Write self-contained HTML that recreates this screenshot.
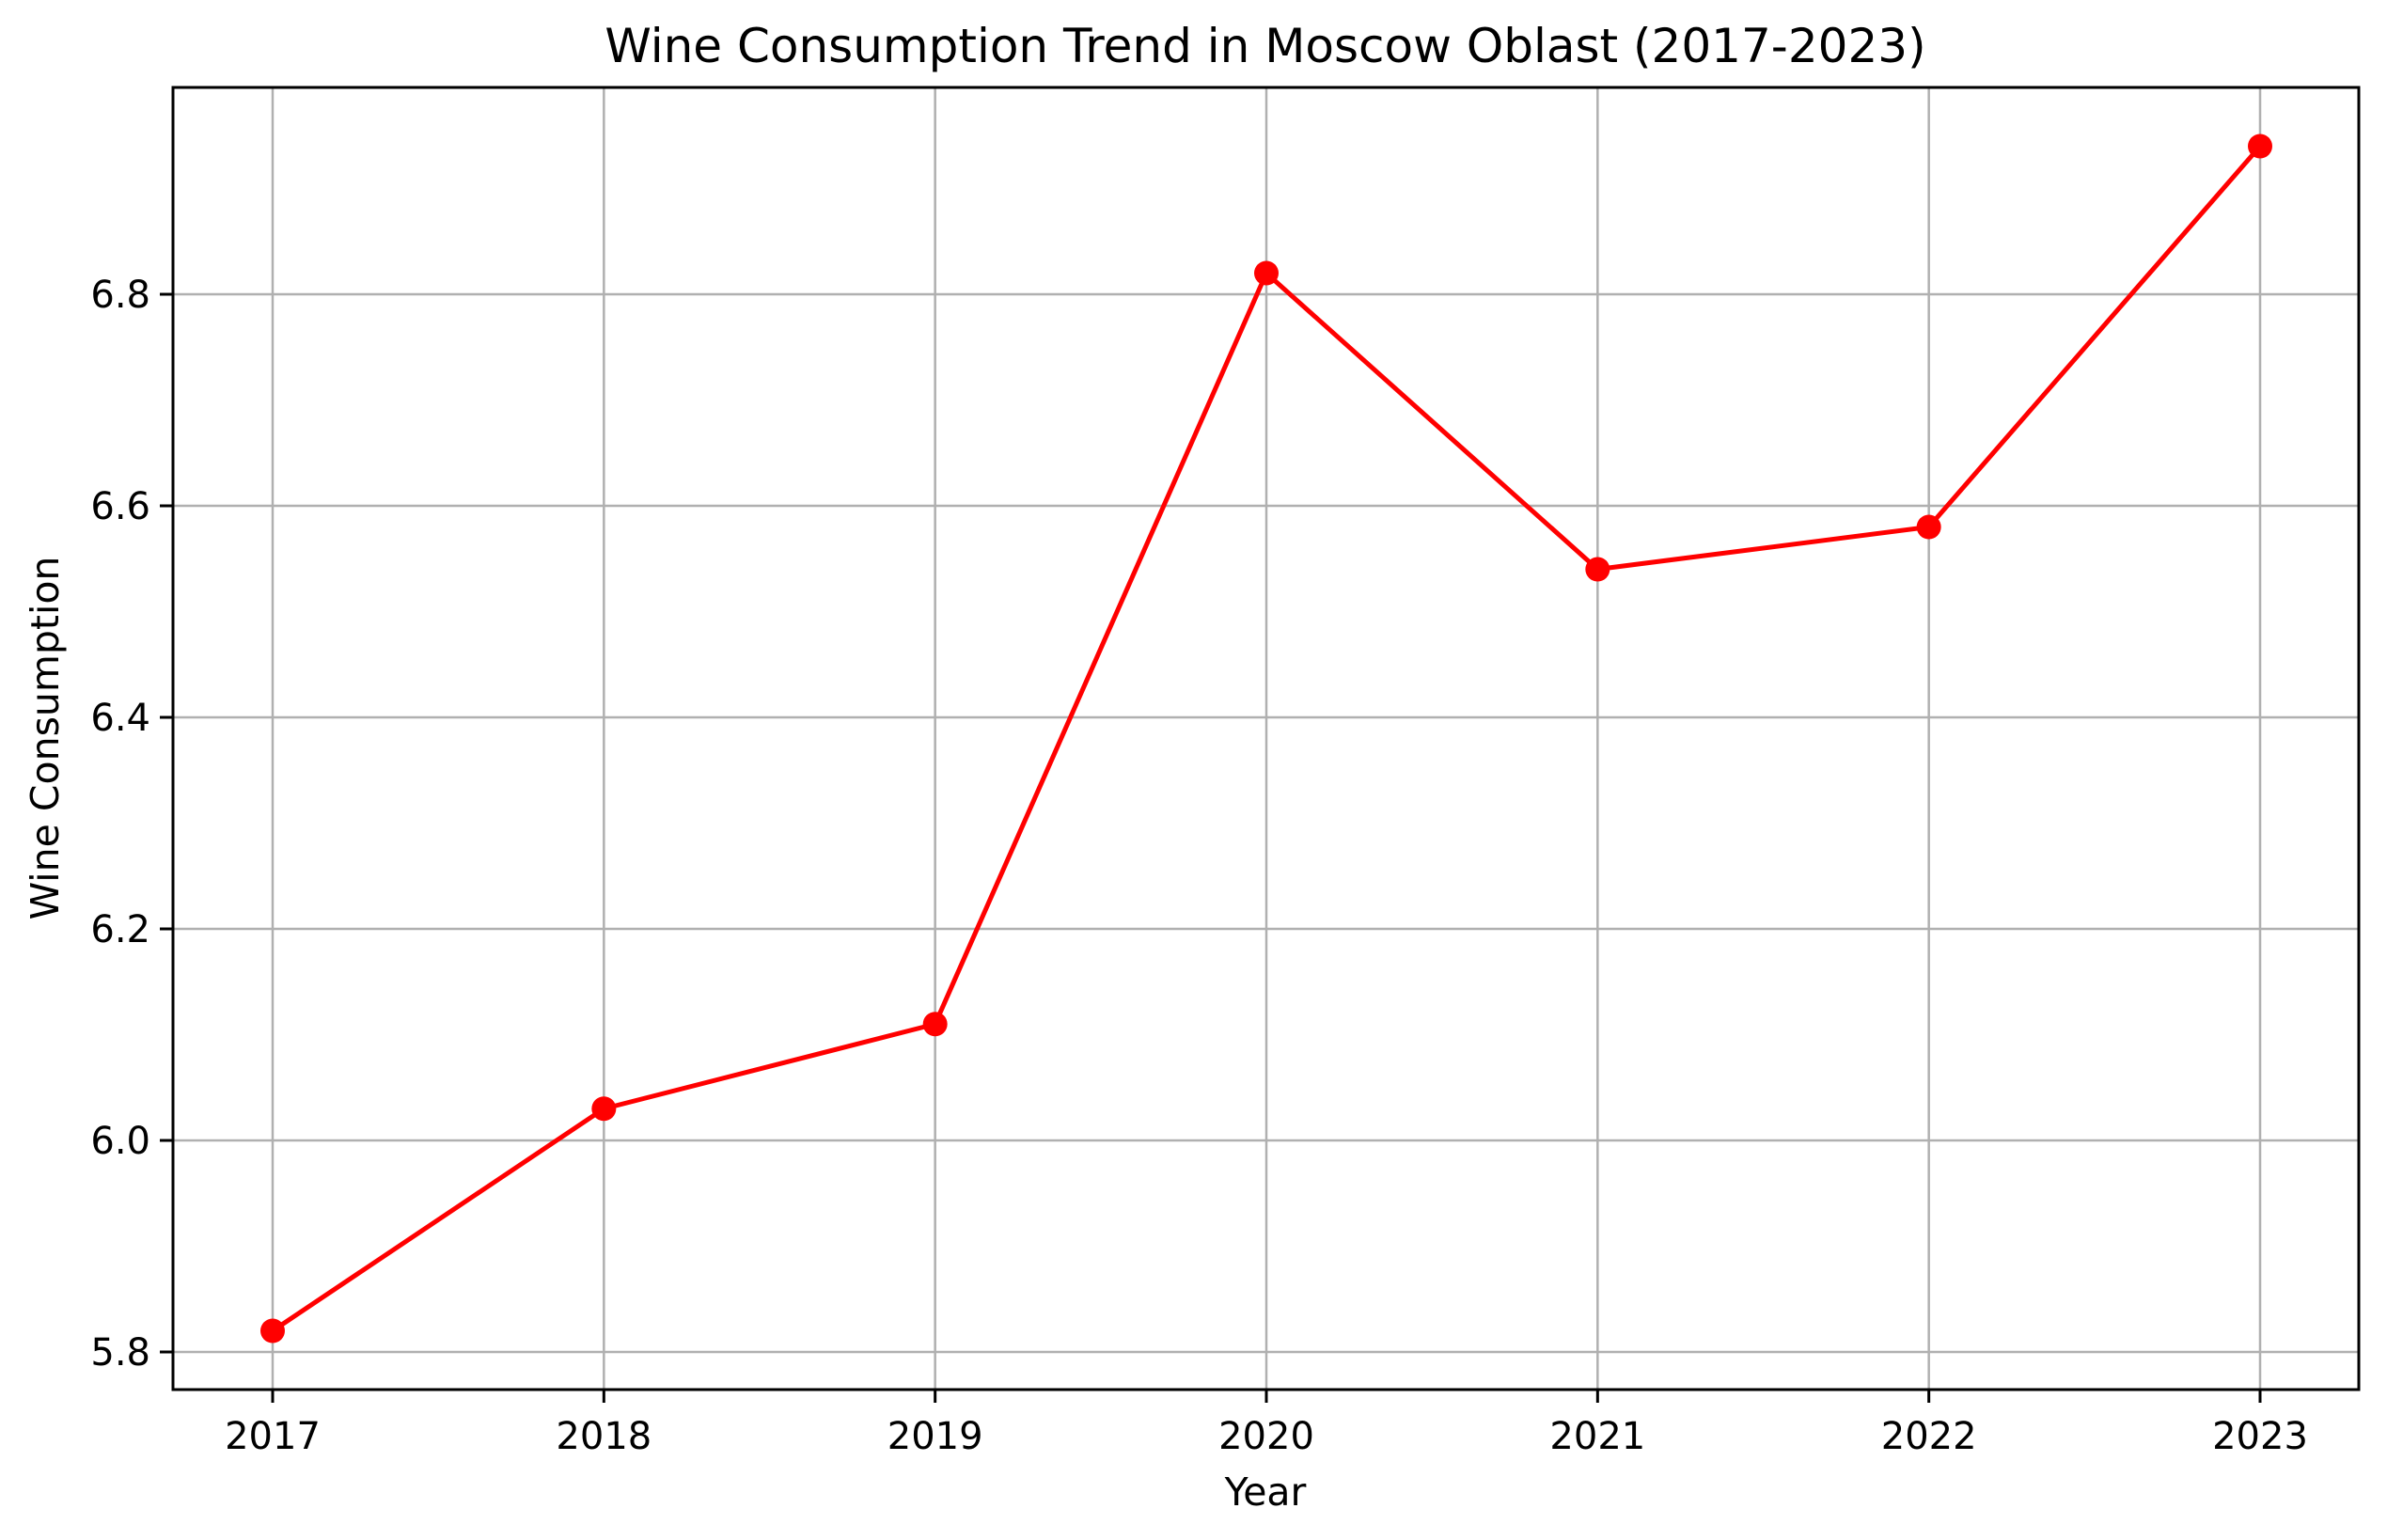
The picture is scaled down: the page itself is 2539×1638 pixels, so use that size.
<!DOCTYPE html>
<html><head><meta charset="utf-8"><style>
html,body{margin:0;padding:0;background:#fff}
svg{display:block}
text{font-family:"DejaVu Sans","Liberation Sans",sans-serif;fill:#000}
</style></head><body>
<svg id="chart" width="2539" height="1638" viewBox="0 0 2539 1638">
<text x="1346" y="66" font-size="50" text-anchor="middle">Wine Consumption Trend in Moscow Oblast (2017-2023)</text>
<g id="grid"></g>
<g id="ticks"></g>
<g id="series"></g>
<rect x="184" y="93" width="2325" height="1385" fill="none" stroke="#000" stroke-width="3"/>
<text x="1346" y="1601" font-size="41" text-anchor="middle">Year</text>
<text transform="translate(62,785) rotate(-90)" font-size="41" text-anchor="middle">Wine Consumption</text>
</svg>
<script>
const years = [2017, 2018, 2019, 2020, 2021, 2022, 2023];
const consumption = [5.82, 6.03, 6.11, 6.82, 6.54, 6.58, 6.94];
const yTicks = [5.8, 6.0, 6.2, 6.4, 6.6, 6.8];
const yTickLabels = ["5.8", "6.0", "6.2", "6.4", "6.6", "6.8"];

const NS = "http://www.w3.org/2000/svg";
const L = 184, R = 2509, T = 93, B = 1478;
function xs(v){ return 290 + (v - 2017) * (2404 - 290) / 6; }
function ys(v){ return 1438 + (v - 5.8) * (313 - 1438) / 1.0; }
function mk(tag, attrs, parent){
  const e = document.createElementNS(NS, tag);
  for (const k in attrs) e.setAttribute(k, attrs[k]);
  parent.appendChild(e);
  return e;
}
const grid = document.getElementById('grid');
const ticks = document.getElementById('ticks');
const series = document.getElementById('series');

years.forEach(function(yr){
  const x = xs(yr);
  const g = mk('line', {x1:x, x2:x, y1:T, y2:B, stroke:'#b0b0b0', 'stroke-width':2.5}, grid);
  
  
  const t = mk('line', {x1:x, x2:x, y1:B, y2:B+14, stroke:'#000', 'stroke-width':3}, ticks);
  
  
  const lb = mk('text', {x:x, y:1541, 'font-size':40, 'text-anchor':'middle'}, ticks);
  lb.textContent = String(yr);
  
  
});
yTicks.forEach(function(v, i){
  const y = ys(v);
  const g = mk('line', {x1:L, x2:R, y1:y, y2:y, stroke:'#b0b0b0', 'stroke-width':2.5}, grid);
  
  
  const t = mk('line', {x1:L-14, x2:L, y1:y, y2:y, stroke:'#000', 'stroke-width':3}, ticks);
  
  
  const lb = mk('text', {x:L-24, y:y+14, 'font-size':40, 'text-anchor':'end'}, ticks);
  lb.textContent = yTickLabels[i];
  
  
});
const pts = years.map(function(yr, i){ return xs(yr) + ',' + ys(consumption[i]); }).join(' ');
const line = mk('polyline', {points:pts, fill:'none', stroke:'#ff0000', 'stroke-width':5, 'stroke-linejoin':'round'}, series);


years.forEach(function(yr, i){
  const c = mk('circle', {cx:xs(yr), cy:ys(consumption[i]), r:13, fill:'#ff0000'}, series);
  
  
});
</script>
</body></html>
